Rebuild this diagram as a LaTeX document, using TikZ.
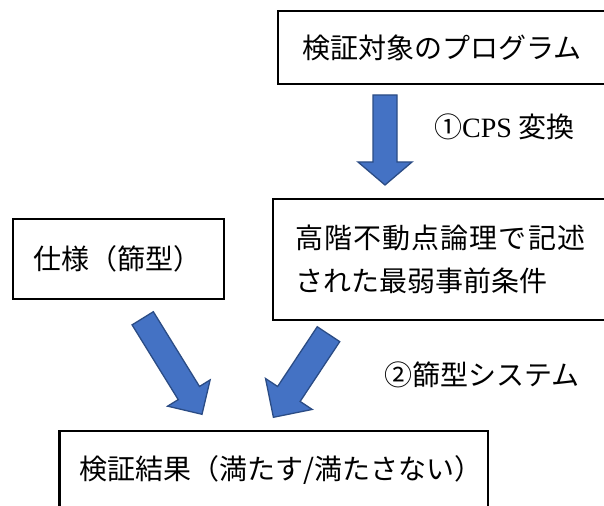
\documentclass[tikz,border=0pt]{standalone}
\usepackage{fontspec}
\setmainfont{Noto Sans CJK JP}
\newfontfamily\latinserif{Liberation Serif}
\usetikzlibrary{calc}
\definecolor{arrowblue}{HTML}{4472C4}
\definecolor{arrowedge}{HTML}{2B4C85}
\newcommand\jpfont{\fontsize{28bp}{43bp}\selectfont}
\tikzset{
  box/.style={draw=black, line width=2.2bp, rectangle, anchor=north west, align=left, inner sep=0pt, font=\jpfont},
  blockarrow/.style={fill=arrowblue, draw=arrowedge, line width=1.3bp, line join=miter},
  lbl/.style={anchor=west, inner sep=0pt, font=\jpfont},
}
% #1 tail, #2 tip, #3 half shaft width, #4 half head width, #5 head length
\newcommand\blockarrowshape[5]{%
  \path ($(#2)!#5!(#1)$) coordinate (hb);
  \draw[blockarrow] ($(#1)!#3!90:(#2)$) -- ($(hb)!#3!-90:(#1)$) -- ($(hb)!#4!-90:(#1)$) -- (#2)
    -- ($(hb)!#4!90:(#1)$) -- ($(hb)!#3!90:(#1)$) -- ($(#1)!#3!-90:(#2)$) -- cycle;
}
\begin{document}
\begin{tikzpicture}[x=1bp,y=-1bp]
\useasboundingbox (0,0) rectangle (604,506);
\clip (0,0) rectangle (604,506);
% boxes
\node[box, minimum height=73bp, text width=370bp] (prog) at (277,10) {\hspace*{24bp}検証対象のプログラム};
\node[box, minimum height=121bp, text width=366bp] (wp) at (272,198)
  {\hspace*{22bp}{\addfontfeature{LetterSpace=4}高階不動点論理で記述}\\\hspace*{22bp}された最弱事前条件};
\node[box, minimum height=80bp, text width=211bp] (spec) at (11.7,218) {\hspace*{20.5bp}仕様（篩型）};
\node[box, minimum height=78bp, text width=428.4bp] (res) at (58.3,430) {\hspace*{20.5bp}検証結果（満たす/満たさない）};
% labels
\node[lbl] (l1) at (434,127) {①{\latinserif CPS} 変換};
\node[lbl] (l2) at (384,375) {②篩型システム};
% arrow end points
\coordinate (a1t) at (385,95);
\coordinate (a1h) at (385,185);
\coordinate (a2t) at (142.7,318.3);
\coordinate (a2h) at (202,414.3);
\coordinate (a3t) at (328.5,334.2);
\coordinate (a3h) at (273.4,417.3);
\blockarrowshape{a1t}{a1h}{12bp}{27bp}{23bp}
\blockarrowshape{a2t}{a2h}{12.5bp}{25bp}{25bp}
\blockarrowshape{a3t}{a3h}{13.5bp}{28bp}{28bp}
\end{tikzpicture}
\end{document}
